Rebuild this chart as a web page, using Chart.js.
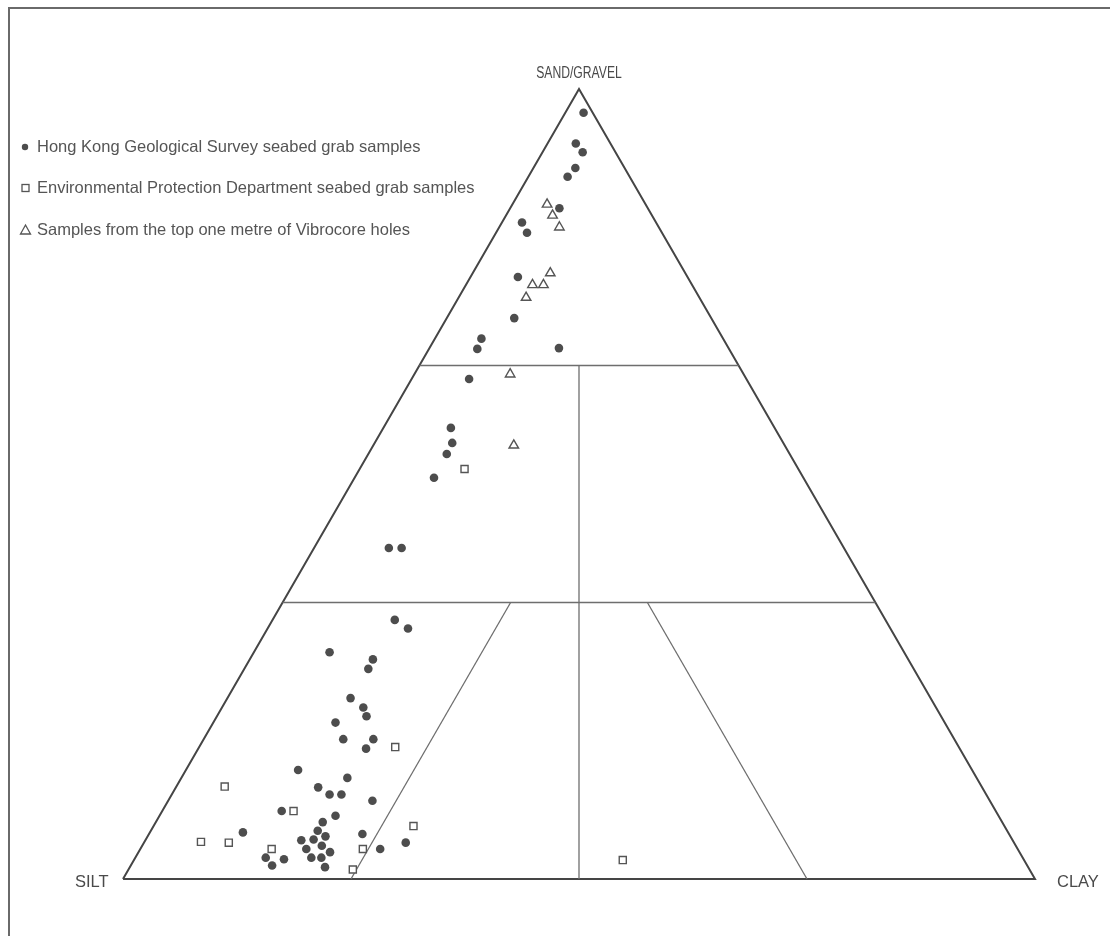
<!DOCTYPE html>
<html>
<head>
<meta charset="utf-8">
<script src="https://cdn.jsdelivr.net/npm/chart.js@4.4.1/dist/chart.umd.min.js"></script>
<style>
  html, body { margin: 0; padding: 0; background: #fff; }
  canvas { display: block; }
</style>
</head>
<body>
<canvas id="chart" width="1110" height="936"></canvas>
<script>
// compositions in percent, silt = 100 - sand - clay
var hkgsSand = [97.0, 93.1, 92.0, 90.0, 88.9, 84.9, 83.1, 81.8, 76.2, 71.0,
                68.4, 67.1, 67.2, 63.3, 57.1, 55.2, 53.8, 50.8, 41.9, 41.9,
                32.8, 31.7, 28.7, 27.8, 26.6, 22.9, 21.7, 20.6, 19.8, 17.7,
                17.7, 16.5, 13.8, 12.8, 11.6, 10.7, 10.7, 9.9, 8.6, 8.0,
                7.2, 6.1, 5.9, 5.7, 5.4, 5.0, 4.9, 4.6, 4.2, 3.8,
                3.4, 3.8, 2.7, 2.5, 2.7, 2.7, 1.7, 1.5];
var hkgsClay = [2.0, 3.1, 4.4, 4.6, 4.3, 5.4, 2.2, 3.4, 5.2, 7.4,
                5.1, 5.3, 14.2, 6.3, 7.4, 8.5, 8.6, 8.7, 8.2, 9.6,
                13.4, 15.4, 8.3, 13.5, 13.6, 13.5, 15.5, 16.4, 13.4, 15.3,
                18.6, 18.4, 12.3, 18.2, 15.6, 17.3, 18.6, 22.4, 13.1, 19.3,
                18.3, 18.3, 10.2, 23.4, 19.5, 18.4, 17.1, 28.7, 19.7, 18.2,
                21.0, 26.3, 14.3, 16.4, 19.3, 20.4, 15.5, 21.4];

var epdSand = [51.9, 16.7, 11.7, 8.6, 6.7, 4.7, 4.6, 3.8, 3.8, 1.2, 2.4];
var epdClay = [11.5, 21.5, 5.3, 14.4, 28.5, 6.2, 9.3, 14.4, 24.4, 24.6, 53.6];

var vibroSand = [85.4, 84.0, 82.5, 76.7, 75.2, 75.2, 73.6, 63.9, 54.9];
var vibroClay = [3.8, 5.1, 6.6, 8.5, 8.5, 7.3, 7.4, 10.5, 15.4];

// class boundaries, each as [sand, clay] -> [sand, clay]
var outline = [[0, 0], [0, 100], [100, 0], [0, 0]];
var boundaries = [
  [[65, 0], [65, 35]],
  [[35, 0], [35, 65]],
  [[0, 50], [65, 17.5]],
  [[0, 25], [35, 25]],
  [[0, 75], [35, 40]]
];

var seriesNames = [
  "Hong Kong Geological Survey seabed grab samples",
  "Environmental Protection Department seabed grab samples",
  "Samples from the top one metre of Vibrocore holes"
];
var cornerLabels = ["SAND/GRAVEL", "SILT", "CLAY"];

var H = Math.sqrt(3) / 2;
var INK = "#4d4d4d";

function toXY(sand, clay) {
  return { x: (clay + sand / 2) / 100, y: sand / 100 * H };
}
function pts(sand, clay) {
  return sand.map(function(s, i) { return toXY(s, clay[i]); });
}
function path(list) {
  return list.map(function(p) { return toXY(p[0], p[1]); });
}

var datasets = [];
datasets.push({
  label: "outline", data: path(outline), showLine: true,
  borderColor: "#454545", borderWidth: 2, pointRadius: 0, order: 10
});
boundaries.forEach(function(b) {
  datasets.push({
    label: "boundary", data: path(b), showLine: true,
    borderColor: "#6e6e6e", borderWidth: 1.3, pointRadius: 0, order: 9
  });
});
datasets.push({
  label: seriesNames[0], data: pts(hkgsSand, hkgsClay),
  pointStyle: "circle", pointRadius: 4.3, backgroundColor: INK, borderColor: INK,
  borderWidth: 0, order: 1
});
datasets.push({
  label: seriesNames[1], data: pts(epdSand, epdClay),
  pointStyle: "rect", pointRadius: 5, backgroundColor: "#fff", borderColor: "#555",
  borderWidth: 1.4, order: 2
});
datasets.push({
  label: seriesNames[2], data: pts(vibroSand, vibroClay),
  pointStyle: "triangle", pointRadius: 5.5, backgroundColor: "#fff", borderColor: "#555",
  borderWidth: 1.4, order: 3
});

var decorations = {
  id: "decorations",
  afterDraw: function(chart) {
    var ctx = chart.ctx;
    ctx.save();
    // frame
    ctx.strokeStyle = "#6a6a6a";
    ctx.lineWidth = 2;
    ctx.beginPath();
    ctx.moveTo(9, 936);
    ctx.lineTo(9, 8);
    ctx.lineTo(1110, 8);
    ctx.stroke();

    // corner labels (apex label is set in a condensed face)
    ctx.fillStyle = "#4a4a4a";
    ctx.textBaseline = "alphabetic";
    ctx.font = '16px "Liberation Sans", Arial, sans-serif';
    ctx.textAlign = "center";
    ctx.save();
    ctx.translate(579, 78);
    ctx.scale(0.76, 1);
    ctx.fillText(cornerLabels[0], 0, 0);
    ctx.restore();
    ctx.font = '16.5px "Liberation Sans", Arial, sans-serif';
    ctx.textAlign = "left";
    ctx.fillText(cornerLabels[1], 75, 887);
    ctx.fillText(cornerLabels[2], 1057, 887);

    // legend
    var rows = [147, 188, 230];
    ctx.font = '16.5px "Liberation Sans", Arial, sans-serif';
    ctx.fillStyle = "#555";
    ctx.textBaseline = "middle";
    seriesNames.forEach(function(name, i) {
      ctx.fillText(name, 37, rows[i]);
    });
    ctx.fillStyle = INK;
    ctx.beginPath();
    ctx.arc(25, rows[0], 3.2, 0, Math.PI * 2);
    ctx.fill();
    ctx.strokeStyle = "#555";
    ctx.lineWidth = 1.3;
    ctx.strokeRect(22, rows[1] - 3.5, 7, 7);
    ctx.beginPath();
    ctx.moveTo(25.5, rows[2] - 5);
    ctx.lineTo(30.5, rows[2] + 4);
    ctx.lineTo(20.5, rows[2] + 4);
    ctx.closePath();
    ctx.stroke();
    ctx.restore();
  }
};

new Chart(document.getElementById("chart"), {
  type: "scatter",
  data: { datasets: datasets },
  options: {
    responsive: false,
    animation: false,
    devicePixelRatio: 1,
    layout: { padding: { left: 123, right: 75, top: 89, bottom: 57 } },
    scales: {
      x: { type: "linear", min: 0, max: 1, display: false },
      y: { type: "linear", min: 0, max: H, display: false }
    },
    elements: { line: { tension: 0 } },
    datasets: { scatter: { clip: false } },
    plugins: { legend: { display: false }, tooltip: { enabled: false } }
  },
  plugins: [decorations]
});
</script>
</body>
</html>
